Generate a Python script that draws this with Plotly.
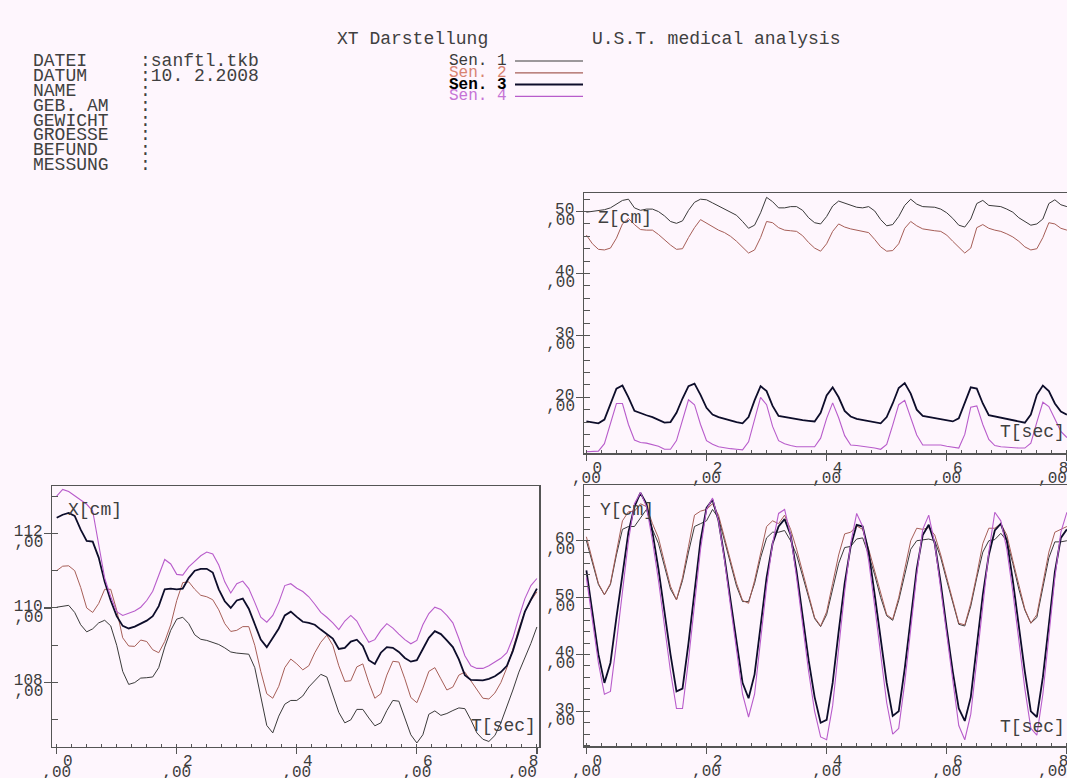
import plotly.graph_objects as go

W, H = 1067, 778

# ---------------- data ----------------
T = [0.0, 0.1, 0.2, 0.3, 0.4, 0.5, 0.6, 0.7, 0.8, 0.9,
     1.0, 1.1, 1.2, 1.3, 1.4, 1.5, 1.6, 1.7, 1.8, 1.9,
     2.0, 2.1, 2.2, 2.3, 2.4, 2.5, 2.6, 2.7, 2.8, 2.9,
     3.0, 3.1, 3.2, 3.3, 3.4, 3.5, 3.6, 3.7, 3.8, 3.9,
     4.0, 4.1, 4.2, 4.3, 4.4, 4.5, 4.6, 4.7, 4.8, 4.9,
     5.0, 5.1, 5.2, 5.3, 5.4, 5.5, 5.6, 5.7, 5.8, 5.9,
     6.0, 6.1, 6.2, 6.3, 6.4, 6.5, 6.6, 6.7, 6.8, 6.9,
     7.0, 7.1, 7.2, 7.3, 7.4, 7.5, 7.6, 7.7, 7.8, 7.9,
     8.0]

# Z [cm]
Z_SEN1 = [49.9, 50.0, 50.1, 50.3, 50.6, 51.2, 51.8, 52.0, 50.6, 50.2,
          50.4, 50.4, 50.0, 49.3, 48.4, 48.1, 48.5, 50.2, 51.5, 52.0,
          51.9, 51.4, 50.9, 50.5, 50.0, 49.4, 48.4, 47.3, 47.8, 49.8,
          52.3, 51.6, 50.6, 50.6, 50.8, 50.8, 50.2, 49.0, 48.2, 48.0,
          49.2, 50.9, 51.7, 51.4, 51.0, 50.7, 50.6, 50.8, 50.1, 48.7,
          47.7, 47.9, 49.2, 51.0, 52.0, 51.2, 50.8, 50.8, 50.7, 50.4,
          49.8, 48.9, 47.8, 47.5, 48.8, 51.3, 51.8, 51.0, 50.9, 50.8,
          50.4, 49.9, 49.0, 48.4, 47.8, 48.0, 48.8, 51.3, 51.9, 51.1,
          50.8]
Z_SEN2 = [46.2, 44.8, 43.9, 43.8, 44.1, 45.7, 48.0, 48.9, 47.9, 47.1,
          47.0, 47.0, 46.3, 45.4, 44.6, 43.9, 44.0, 45.8, 47.4, 48.7,
          48.1, 47.5, 47.0, 46.6, 46.0, 45.2, 44.2, 43.3, 43.8, 45.8,
          48.4, 48.2, 47.4, 47.0, 46.9, 46.8, 46.1, 45.0, 44.1, 43.6,
          44.8, 46.8, 48.0, 47.5, 47.2, 47.0, 46.9, 46.6, 45.5, 44.3,
          43.6, 43.7, 44.8, 47.3, 48.4, 47.7, 47.2, 47.0, 46.9, 46.8,
          46.2, 45.2, 44.2, 43.3, 44.1, 47.4, 47.9, 47.3, 47.0, 46.8,
          46.4, 45.9, 45.2, 44.3, 43.8, 44.0, 45.8, 48.2, 48.0, 47.3,
          47.0]
Z_SEN3 = [16.1, 16.0, 15.8, 16.4, 19.0, 21.4, 21.9, 20.0, 17.8, 17.4,
          17.1, 16.8, 16.4, 15.9, 16.0, 17.5, 19.8, 21.8, 22.2, 20.4,
          18.3, 17.2, 16.8, 16.5, 16.3, 16.0, 15.8, 16.8, 19.5, 21.8,
          21.0, 18.6, 17.0, 16.8, 16.6, 16.5, 16.3, 16.2, 16.1, 17.5,
          20.3, 21.6, 20.0, 17.8, 16.9, 16.5, 16.3, 16.1, 16.0, 15.8,
          16.8, 19.0, 21.5, 22.3, 20.6, 18.0, 17.0, 16.8, 16.6, 16.4,
          16.3, 16.1, 16.6, 19.2, 21.6, 21.4, 19.0, 17.1, 16.9, 16.7,
          16.5, 16.3, 16.0, 15.9, 17.2, 20.4, 21.9, 21.0, 19.0, 17.7,
          17.2]
Z_SEN4 = [11.2, 11.2, 11.3, 12.5, 15.8, 19.0, 19.0, 15.6, 13.1, 12.7,
          12.6, 12.4, 12.1, 11.6, 11.6, 13.0, 16.4, 19.6, 18.8, 15.6,
          13.0, 12.4, 12.0, 11.8, 11.7, 11.6, 11.5, 12.8, 16.3, 20.0,
          18.8, 15.3, 13.0, 12.5, 12.2, 12.0, 12.0, 12.0, 12.0, 13.4,
          16.6, 19.1, 16.7, 13.8, 12.3, 12.2, 12.1, 12.0, 11.8, 11.6,
          12.4, 15.5, 18.8, 19.5, 16.7, 13.9, 12.3, 12.3, 12.3, 12.3,
          12.1, 12.0, 11.8, 14.0, 18.4, 18.6, 15.6, 13.2, 12.2, 12.0,
          11.9, 11.8, 11.8, 11.8, 12.6, 16.0, 19.2, 18.5, 16.5, 14.5,
          13.5]

# X [cm]
X_SEN1 = [110.02, 110.05, 110.07, 109.88, 109.55, 109.36, 109.44, 109.6, 109.67, 109.52,
          109.0, 108.3, 107.95, 108.0, 108.12, 108.13, 108.15, 108.4, 108.95, 109.4,
          109.7, 109.75, 109.58, 109.28, 109.16, 109.13, 109.08, 109.02, 108.93, 108.82,
          108.79, 108.78, 108.76, 108.4, 107.6, 106.85, 106.65, 107.1, 107.42, 107.52,
          107.52, 107.64, 107.88, 108.05, 108.22, 108.15, 107.7, 107.2, 106.92, 107.0,
          107.28, 107.28, 107.05, 106.84, 106.92, 107.25, 107.52, 107.5, 107.05, 106.6,
          106.38, 106.6, 107.15, 107.24, 107.12, 107.17, 107.25, 107.32, 107.3, 107.0,
          106.65, 106.48, 106.42, 106.58, 106.92, 107.35, 107.8, 108.28, 108.66, 109.05,
          109.49]
X_SEN2 = [111.0, 111.12, 111.13, 111.0, 110.55, 110.0, 109.88, 110.12, 110.5, 110.5,
          109.94, 109.2, 108.98, 108.97, 109.14, 109.1, 108.88, 108.8, 109.1, 109.55,
          110.2, 110.68, 110.7, 110.5, 110.34, 110.3, 110.22, 109.95, 109.58, 109.37,
          109.4, 109.5, 109.5, 109.0, 108.3, 107.7, 107.58, 107.9, 108.4, 108.63,
          108.5, 108.34, 108.45, 108.8, 109.08, 109.27, 109.0, 108.45, 108.03, 108.05,
          108.42, 108.5, 108.0, 107.58, 107.7, 108.2, 108.57, 108.55, 108.1, 107.6,
          107.46, 107.85, 108.3, 108.4, 108.1, 107.8, 107.88, 108.2, 108.28, 108.05,
          107.8, 107.58, 107.56, 107.72, 108.0, 108.4, 108.9, 109.45, 109.9, 110.2,
          110.43]
X_SEN3 = [112.42, 112.5, 112.55, 112.47, 112.1, 111.8, 111.78, 111.35, 110.7, 110.2,
          109.78, 109.52, 109.45, 109.5, 109.58, 109.66, 109.78, 110.05, 110.5, 110.52,
          110.5, 110.52, 110.8, 111.0, 111.05, 111.05, 110.95, 110.5, 110.18, 110.0,
          110.2, 110.25, 109.98, 109.55, 109.15, 108.95, 109.2, 109.45, 109.8, 109.9,
          109.76, 109.63, 109.6, 109.55, 109.42, 109.3, 109.18, 108.9, 108.93, 109.1,
          109.15, 108.98, 108.6, 108.5, 108.8, 108.95, 108.93, 108.82, 108.66, 108.56,
          108.6, 108.9, 109.2, 109.38, 109.3, 109.13, 108.95, 108.62, 108.2, 108.07,
          108.06, 108.06, 108.1, 108.17, 108.28, 108.45, 108.85, 109.4, 109.9, 110.22,
          110.52]
X_SEN4 = [113.0, 113.18, 113.12, 113.0, 112.9, 112.78, 112.6, 111.7, 110.8, 110.3,
          109.9, 109.8, 109.85, 109.92, 110.02, 110.2, 110.45, 110.85, 111.3, 111.18,
          110.9, 110.88, 111.1, 111.25, 111.4, 111.5, 111.45, 111.15, 110.7, 110.4,
          110.65, 110.72, 110.52, 110.15, 109.75, 109.62, 109.8, 110.15, 110.6, 110.65,
          110.53, 110.44, 110.3, 110.1, 109.88, 109.75, 109.6, 109.42, 109.65, 109.8,
          109.65, 109.35, 109.08, 109.15, 109.4, 109.58, 109.46, 109.3, 109.15, 109.04,
          109.13, 109.55, 109.85, 110.02, 109.96, 109.8, 109.6, 109.18, 108.72, 108.45,
          108.38, 108.38, 108.45, 108.55, 108.65, 108.8, 109.2, 109.75, 110.25, 110.6,
          110.79]

# Y [cm]
Y_SEN1 = [60.0, 56.0, 52.3, 50.5, 52.3, 57.5, 62.0, 62.5, 62.5, 64.0,
          65.5, 62.0, 59.5, 55.5, 51.5, 49.6, 53.0, 58.0, 62.5, 63.0,
          63.5, 65.5, 64.0, 60.0, 56.0, 52.0, 49.3, 49.3, 52.5, 57.0,
          60.5, 61.5, 61.5, 61.8, 60.0, 57.5, 53.8, 50.0, 46.3, 44.9,
          47.0, 51.5, 56.0, 58.8, 59.0, 60.3, 60.5, 57.5, 54.0, 50.0,
          46.8, 46.0, 49.5, 54.0, 58.5, 60.0, 60.2, 60.3, 60.0, 57.0,
          53.0, 49.0, 45.3, 45.0, 48.5, 53.5, 58.0, 60.0, 60.2, 61.3,
          60.0, 56.0, 51.5, 47.8, 45.5, 46.5, 52.0, 57.0, 59.8, 59.8,
          60.0]
Y_SEN2 = [60.7, 56.5, 52.5, 50.5, 52.5, 58.0, 63.5, 65.1, 65.2, 66.5,
          66.0, 63.0, 60.5, 56.2, 52.0, 49.6, 53.5, 59.0, 64.5, 65.2,
          65.5, 66.5, 64.5, 60.5, 56.5, 52.5, 49.5, 49.0, 53.0, 58.0,
          62.5, 63.5, 63.0, 64.5, 62.0, 58.5, 54.5, 50.5, 46.5, 45.0,
          47.5, 52.5, 57.5, 61.2, 61.5, 62.6, 62.0, 58.5, 54.5, 50.5,
          47.0, 46.2, 50.0, 55.0, 60.0, 62.2, 62.0, 62.3, 61.0, 57.5,
          53.5, 49.5, 45.5, 45.2, 49.0, 54.0, 59.5, 62.2, 62.2, 63.0,
          61.0, 56.5, 52.0, 48.0, 45.5, 47.0, 52.5, 58.0, 61.5, 62.0,
          62.5]
Y_SEN3 = [54.8, 47.5, 40.0, 35.0, 38.5, 46.5, 54.5, 61.5, 66.0, 68.4,
          66.5, 61.5, 55.0, 47.5, 40.0, 33.5, 34.0, 42.0, 51.5, 60.0,
          65.8, 67.2, 63.5, 57.0, 49.5, 42.0, 35.0, 32.3, 36.5, 45.0,
          53.5, 59.5, 62.5, 63.8, 61.0, 54.5, 46.5, 39.0, 32.5, 28.0,
          28.5, 35.0, 44.0, 52.5, 59.0, 62.8, 62.5, 58.0, 50.5, 42.5,
          35.0, 29.2, 30.0, 37.5, 46.5, 55.0, 61.0, 62.8, 59.5, 52.5,
          44.5, 37.0, 30.5, 28.3, 32.5, 41.5, 50.5, 57.5, 61.8, 63.0,
          60.0, 53.0, 45.0, 37.0, 30.0, 29.0, 36.0, 45.5, 54.5, 60.5,
          62.0]
Y_SEN4 = [53.5, 46.0, 38.5, 33.0, 33.5, 42.0, 51.5, 60.0, 66.5, 68.5,
          66.0, 60.0, 53.0, 45.0, 37.0, 30.5, 30.5, 39.0, 49.0, 58.5,
          65.5, 67.5, 63.5, 56.5, 48.5, 40.5, 33.0, 29.0, 33.0, 42.5,
          52.0, 59.5, 64.8, 65.5, 61.0, 53.5, 45.0, 37.0, 30.0, 25.5,
          25.0, 31.0, 41.0, 51.0, 59.5, 64.8, 62.5, 56.5, 48.5, 39.5,
          31.5, 26.0, 27.0, 35.0, 44.5, 54.0, 62.0, 64.5, 59.5, 51.5,
          43.0, 34.5, 27.5, 25.0, 29.5, 39.0, 49.0, 58.0, 65.0, 63.5,
          58.5, 51.0, 42.5, 34.0, 27.0, 25.8, 33.0, 43.5, 53.5, 61.5,
          65.0]

SENSORS = ["Sen. 1", "Sen. 2", "Sen. 3", "Sen. 4"]
X_TICKS = [0, 2, 4, 6, 8]
X_TICK_TEXT = ["0", "2", "4", "6", "8"]
Z_TICKS = [20, 30, 40, 50]
Y_TICKS = [30, 40, 50, 60]
XP_TICKS = [108, 110, 112]
DEC = ",00"

HEADER_LABELS = ["DATEI", "DATUM", "NAME", "GEB. AM", "GEWICHT", "GROESSE", "BEFUND", "MESSUNG"]
HEADER_VALUES = [":sanftl.tkb", ":10. 2.2008", ":", ":", ":", ":", ":", ":"]

# ---------------- style ----------------
BG = "#fef6fd"
AX = "#555555"
MONO = "Liberation Mono, Courier New, monospace"
LINE_COL = ["#3a3a3a", "#a65e57", "#0d0d2a", "#b85ccb"]
LINE_W = [1.0, 1.0, 1.8, 1.1]
TEXT_COL = ["#3a3a3a", "#d88472", "#000000", "#c673d6"]
NB = "\u00a0\u00a0\u00a0"   # pulls the last x label inwards, as the original does


def px(x):
    return x / W


def py(y):
    return 1 - y / H


fig = go.Figure()

# (main x, main y, overlay x, overlay y, series); Sen. 4 is drawn on the
# overlay axes, which carry the ",00" second row of the tick labels.
panels = [
    ("x", "y", "x4", "y4", [X_SEN1, X_SEN2, X_SEN3, X_SEN4]),
    ("x2", "y2", "x5", "y5", [Z_SEN1, Z_SEN2, Z_SEN3, Z_SEN4]),
    ("x3", "y3", "x6", "y6", [Y_SEN1, Y_SEN2, Y_SEN3, Y_SEN4]),
]
for xa, ya, xo, yo, series in panels:
    for i, vals in enumerate(series):
        on_overlay = (i == 3)
        fig.add_trace(go.Scatter(
            x=T, y=vals, mode="lines", name=SENSORS[i],
            line=dict(color=LINE_COL[i], width=LINE_W[i]),
            xaxis=xo if on_overlay else xa, yaxis=yo if on_overlay else ya,
            showlegend=False, hoverinfo="skip"))

TF = dict(family=MONO, size=16, color="#3c3c3c")


def x_main(domain, rng, anchor):
    txt = X_TICK_TEXT[:-1] + [X_TICK_TEXT[-1] + NB]
    return dict(domain=domain, range=rng, anchor=anchor, showgrid=False, zeroline=False,
                showline=True, linecolor=AX, linewidth=1.5, mirror=True, automargin=False,
                tickmode="array", tickvals=X_TICKS, ticktext=txt, ticklabeloverflow="allow",
                ticks="outside", ticklen=6, tickcolor=AX, tickwidth=1.2,
                minor=dict(tickmode="linear", tick0=0, dtick=0.25, ticks="inside",
                           ticklen=3, tickcolor=AX, tickwidth=1),
                tickfont=TF, ticklabelshift=11, ticklabelstandoff=-7, fixedrange=True)


def x_dec(over, anchor, rng):
    txt = [DEC] * (len(X_TICKS) - 1) + [DEC + NB]
    return dict(overlaying=over, anchor=anchor, side="bottom", range=rng, automargin=False,
                showgrid=False, zeroline=False, showline=False, ticks="",
                tickmode="array", tickvals=X_TICKS, ticktext=txt, ticklabeloverflow="allow",
                tickfont=TF, ticklabelshift=0, ticklabelstandoff=13, fixedrange=True)


def y_main(domain, rng, anchor, vals, minor_dtick, mirror):
    return dict(domain=domain, range=rng, anchor=anchor, showgrid=False, zeroline=False,
                showline=True, linecolor=AX, linewidth=1.5, mirror=mirror, automargin=False,
                tickmode="array", tickvals=vals, ticktext=[str(v) for v in vals],
                ticks="outside", ticklen=7, tickcolor=AX, tickwidth=1.2,
                minor=dict(tickmode="linear", tick0=0, dtick=minor_dtick, ticks="inside",
                           ticklen=6, tickcolor=AX, tickwidth=1),
                tickfont=TF, ticklabelshift=-3, ticklabelstandoff=-2, fixedrange=True)


def y_dec(over, anchor, rng, vals):
    return dict(overlaying=over, anchor=anchor, side="left", range=rng, automargin=False,
                showgrid=False, zeroline=False, showline=False, ticks="",
                tickmode="array", tickvals=vals, ticktext=[DEC] * len(vals),
                tickfont=TF, ticklabelshift=8, ticklabelstandoff=8, fixedrange=True)


XP_DOM_X = [px(52.3), px(539.3)]
XP_DOM_Y = [py(746.7), py(486)]
R_DOM_X = [px(584), 1.0]
Z_DOM_Y = [py(453), py(193)]
Y_DOM_Y = [py(746), py(485)]

XP_XR = [-0.073, 8.04]
XP_YR = [106.28, 113.27]
R_XR = [-0.04, 8.002]
Z_YR = [11.0, 53.0]
Y_YR = [23.9, 69.8]

fig.update_layout(
    width=W, height=H, margin=dict(l=0, r=0, t=0, b=0, pad=0, autoexpand=False),
    autosize=False, paper_bgcolor=BG, plot_bgcolor=BG, hovermode=False,
    xaxis=x_main(XP_DOM_X, XP_XR, "y"),
    yaxis=y_main(XP_DOM_Y, XP_YR, "x", XP_TICKS, 1, True),
    xaxis2=x_main(R_DOM_X, R_XR, "y2"),
    yaxis2=y_main(Z_DOM_Y, Z_YR, "x2", Z_TICKS, 2, False),
    xaxis3=x_main(R_DOM_X, R_XR, "y3"),
    yaxis3=y_main(Y_DOM_Y, Y_YR, "x3", Y_TICKS, 2, False),
    xaxis4=x_dec("x", "y4", XP_XR),
    yaxis4=y_dec("y", "x4", XP_YR, XP_TICKS),
    xaxis5=x_dec("x2", "y5", R_XR),
    yaxis5=y_dec("y2", "x5", Z_YR, Z_TICKS),
    xaxis6=x_dec("x3", "y6", R_XR),
    yaxis6=y_dec("y3", "x6", Y_YR, Y_TICKS),
)

ann = []


def text(x, y, s, size=18, color="#404040", anchor="left", weight="normal"):
    ann.append(dict(x=px(x), y=py(y), xref="paper", yref="paper", text=s,
                    showarrow=False, xanchor=anchor, yanchor="middle", borderpad=0,
                    font=dict(family=MONO, size=size, color=color, weight=weight)))


# header
text(412, 39, "XT Darstellung", anchor="center")
text(716, 39, "U.S.T. medical analysis", anchor="center")
for i, (lab, val) in enumerate(zip(HEADER_LABELS, HEADER_VALUES)):
    yy = 61 + 14.9 * i
    text(32, yy, lab)
    text(139, yy, val)

# sensor key
KEY_Y = [61, 72.8, 84.6, 96.4]
for i, s in enumerate(SENSORS):
    text(448, KEY_Y[i], s, size=16, color=TEXT_COL[i], weight="bold" if i == 2 else "normal")
    fig.add_shape(type="line", xref="paper", yref="paper",
                  x0=px(515), x1=px(583), y0=py(KEY_Y[i]), y1=py(KEY_Y[i]),
                  line=dict(color=LINE_COL[i], width=LINE_W[i] + 0.2))

# panel labels
text(597, 218, "Z[cm]")
text(1066, 432, "T[sec]", anchor="right")
text(67, 510, "X[cm]")
text(537, 726, "T[sec]", anchor="right")
text(599, 510, "Y[cm]")
text(1066, 727, "T[sec]", anchor="right")

fig.update_layout(annotations=ann)

PAGE_FIX = ("document.documentElement.style.margin='0';document.body.style.margin='0';"
            "document.body.style.padding='0';document.body.style.overflow='hidden';"
            "document.documentElement.style.overflow='hidden';"
            "Plotly.Plots.resize(document.getElementById('{plot_id}'));")
fig.write_html("out.html", post_script=PAGE_FIX,
               config={"displayModeBar": False, "staticPlot": True})
